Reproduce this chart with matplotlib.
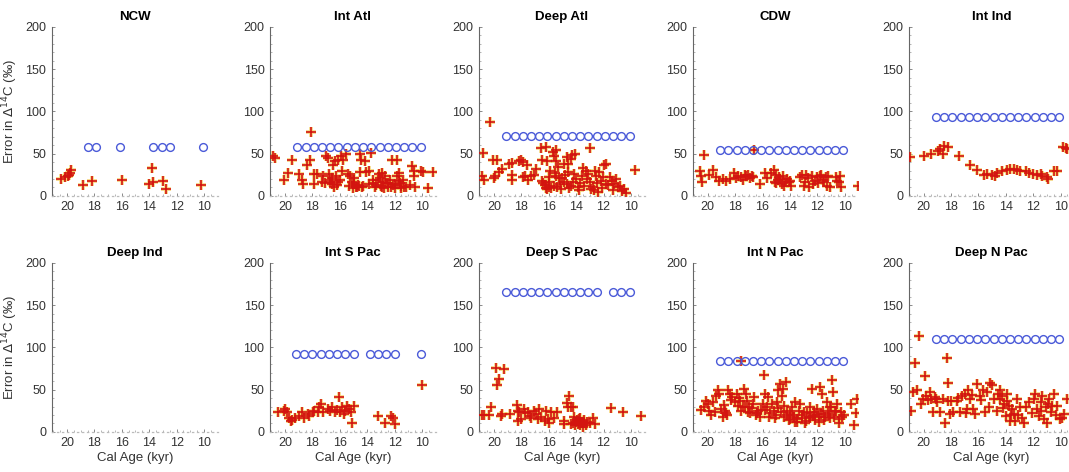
import numpy as np
import matplotlib
matplotlib.use("Agg")
import matplotlib.pyplot as plt

plt.rcParams['font.family'] = ['Liberation Sans', 'DejaVu Sans']

# ========== DATA ==========
titles = ["NCW", "Int Atl", "Deep Atl", "CDW", "Int Ind",
          "Deep Ind", "Int S Pac", "Deep S Pac", "Int N Pac", "Deep N Pac"]

grid16 = [19.1, 18.5, 17.9, 17.3, 16.7, 16.1, 15.5, 14.9, 14.3, 13.7,
          13.1, 12.5, 11.9, 11.3, 10.7, 10.1]

# blue circles (age, level)
circ_x = {
    "NCW": [18.5, 17.9, 16.1, 13.7, 13.1, 12.5, 10.05],
    "Int Atl": grid16,
    "Deep Atl": grid16,
    "CDW": grid16,
    "Int Ind": grid16,
    "Deep Ind": [],
    "Int S Pac": [19.2, 18.6, 18.0, 17.4, 16.8, 16.2, 15.6, 15.0,
                  13.8, 13.2, 12.6, 12.0, 10.05],
    "Deep S Pac": [19.1, 18.5, 17.9, 17.3, 16.7, 16.1, 15.5, 14.9, 14.3,
                   13.7, 13.1, 12.5, 11.3, 10.7, 10.1],
    "Int N Pac": grid16,
    "Deep N Pac": grid16,
}
circ_y = {"NCW": 58, "Int Atl": 58, "Deep Atl": 71, "CDW": 54, "Int Ind": 93,
          "Deep Ind": 0, "Int S Pac": 92, "Deep S Pac": 165, "Int N Pac": 84,
          "Deep N Pac": 110}

# red crosses
ncw_x = [20.45, 20.15, 19.95, 19.8, 19.7, 19.85, 18.8, 18.2, 16.0, 14.0, 13.8, 13.7, 13.0, 12.8, 10.2]
ncw_y = [20, 22, 24, 27, 31, 25, 13, 18, 19, 14, 33, 16, 18, 8, 13]

iatl_x = [20.86, 20.74, 20.1, 19.8, 19.5, 18.96, 18.8, 18.7, 18.4, 18.15, 18.1, 17.9, 17.7, 17.9,
          17.3, 17.0, 16.9, 17.2, 16.8, 16.75, 16.6, 16.5, 16.35, 16.3, 16.2, 16.1, 16.0, 15.9,
          15.85, 15.75, 15.55, 15.4, 15.25, 15.1, 15.0, 14.85, 14.7, 14.55, 14.45, 14.5, 14.4,
          14.2, 14.1, 13.9, 13.85, 13.7, 13.55, 13.35, 13.2, 13.15, 13.05, 12.95, 12.85, 12.7,
          12.6, 12.5, 12.35, 12.2, 12.1, 12.0, 11.85, 11.8, 11.7, 11.6, 11.5, 11.4, 11.15, 10.85,
          10.75, 10.6, 10.55, 10.5, 10.1, 9.9, 9.6, 9.2,
          16.7, 16.45, 16.15, 15.3, 15.05, 14.95, 14.75, 14.3, 13.4, 13.0, 12.75, 12.45, 12.25,
          11.95, 11.55, 11.3, 17.1, 16.55, 14.6, 13.6, 12.9, 11.65]
iatl_y = [47, 45, 19, 27, 43, 26, 19, 14, 36, 43, 76, 26, 26, 14,
          17, 47, 45, 23, 26, 19, 14, 37, 41, 23, 13, 43, 19, 47,
          30, 43, 50, 26, 23, 17, 14, 11, 13, 49, 43, 28, 10,
          41, 28, 30, 14, 51, 15, 13, 19, 26, 21, 27, 17, 23,
          15, 11, 19, 43, 13, 9, 42, 23, 27, 15, 9, 19, 11, 13,
          35, 30, 23, 11, 29, 28, 9, 28,
          17, 11, 16, 12, 9, 21, 10, 12, 10, 12, 9, 15, 11,
          14, 12, 10, 15, 21, 12, 19, 11, 18]

datl_x = [20.86, 20.74, 20.8, 20.27, 20.1, 19.8, 20.0, 19.9, 19.66, 19.4, 18.9, 18.7, 18.2, 17.9,
          18.05, 18.65, 18.65, 17.6, 17.9, 17.7, 17.55, 17.3, 17.1, 16.9, 16.6, 16.2, 16.5, 16.1,
          16.5, 16.3, 16.0, 15.8, 16.2, 15.7, 15.5, 15.6, 15.5, 15.35, 15.55, 15.25, 15.4, 15.2,
          14.9, 14.56, 14.7, 14.3, 14.1, 14.4, 15.0, 14.8, 14.7, 14.5, 14.2, 14.0, 13.8,
          13.0, 13.6, 13.3, 13.1, 13.0, 12.8, 12.7, 12.55, 12.45, 12.35, 12.2, 12.1, 11.95, 11.85,
          11.7, 11.55, 11.4, 11.3, 11.2, 11.1, 10.95, 10.8, 10.65, 10.5, 10.35, 9.7,
          16.4, 16.0, 15.9, 15.65, 15.45, 15.1, 14.85, 14.6, 14.35, 13.9, 13.7, 13.45, 13.2,
          12.95, 12.6, 12.4, 12.05, 11.8, 13.5, 14.15, 15.95, 16.15]
datl_y = [23, 19, 51, 88, 43, 43, 21, 24, 28, 32, 38, 39, 41, 40,
          42, 25, 19, 37, 22, 23, 19, 24, 25, 32, 57, 58, 43, 41,
          18, 13, 10, 9, 9, 52, 54, 47, 41, 34, 27, 21, 11, 14,
          38, 38, 46, 48, 50, 44, 21, 25, 14, 9, 17, 20, 7,
          57, 24, 30, 26, 17, 11, 7, 24, 15, 28, 18, 9, 36, 38,
          13, 22, 18, 7, 14, 20, 10, 12, 6, 8, 4, 31,
          15, 22, 30, 12, 24, 8, 16, 28, 12, 10, 15, 12, 20,
          8, 30, 5, 22, 14, 33, 26, 17, 8]

cdw_x = [20.55, 20.5, 20.4, 20.3, 19.9, 19.6, 19.4, 19.15, 18.9, 18.65, 18.4, 18.05, 17.8, 17.55,
         17.3, 17.05, 16.8, 16.6, 16.2, 15.85, 15.7, 15.2, 15.1, 15.0, 14.9, 14.8, 14.6, 14.5,
         14.35, 14.2, 14.0, 13.9, 13.1, 13.0, 12.9, 12.8, 12.6, 12.4, 12.3, 12.15, 11.8, 11.7,
         11.55, 11.4, 11.3, 11.2, 11.1, 10.6, 10.45, 10.35, 10.3, 9.05,
         17.95, 17.45, 17.2, 16.95, 15.35, 15.05, 14.7, 14.45, 14.1, 13.3, 12.7, 12.05, 11.95,
         11.5, 10.55, 16.7]
cdw_y = [29, 23, 16, 48, 25, 31, 22, 18, 20, 18, 20, 27, 24, 22,
         25, 25, 24, 54, 14, 27, 21, 31, 16, 25, 19, 22, 14, 24,
         17, 20, 18, 12, 25, 12, 16, 25, 11, 24, 14, 18, 24, 25,
         19, 22, 12, 24, 10, 22, 16, 24, 11, 12,
         21, 19, 23, 21, 27, 15, 20, 12, 16, 22, 21, 22, 15,
         17, 18, 22]

iind_x = [21.0, 19.95, 19.46, 18.98, 18.8, 18.6, 18.5, 18.2, 17.45, 16.65, 16.1, 15.6, 15.4,
          15.0, 14.76, 14.65, 14.27, 13.9, 13.7, 13.4, 13.17, 12.95, 12.56, 12.3, 12.05, 11.7,
          11.46, 11.34, 10.98, 10.9, 10.5, 10.24, 9.8, 9.63, 9.5]
iind_y = [46, 47, 50, 53, 55, 49, 59, 58, 47, 36, 31, 25, 26,
          25, 23, 27, 29, 31, 32, 32, 31, 30, 29, 27, 26, 25,
          26, 23, 22, 20, 29, 29, 58, 57, 55]

dind_x = []
dind_y = []

ispac_x = [20.5, 20.1, 20.0, 19.87, 19.75, 19.6, 19.5, 19.25, 19.0, 18.74, 18.6, 18.36, 18.23,
           17.98, 17.86, 17.6, 17.5, 17.35, 17.2, 16.85, 16.7, 16.6, 16.35, 16.2, 16.05, 15.97,
           15.85, 15.7, 15.6, 15.47, 15.34, 15.2, 15.1, 14.96, 13.2, 12.7, 12.3, 12.15, 12.0, 10.0]
ispac_y = [23.5, 25, 27, 23, 17, 13, 14, 16, 19, 23, 17, 21, 19,
           23, 25, 23, 29, 33, 23, 27, 25, 29, 23, 26, 41, 23,
           29, 21, 25, 31, 27, 24, 11, 31, 19, 11, 19, 16, 9, 56]

dspac_x = [20.86, 20.75, 20.37, 20.25, 19.88, 19.75, 19.6, 19.5, 19.4, 19.3, 18.8, 18.33, 18.28,
           18.24, 18.2, 18.04, 17.8, 17.7, 17.55, 17.4, 17.3, 17.06, 16.9, 16.8, 16.7, 16.6, 16.3,
           16.2, 16.08, 15.95, 15.8, 15.6, 15.4, 14.9, 14.85, 14.7, 14.6, 14.5, 14.4, 14.2,
           14.35, 14.25, 14.1, 14.0, 13.9, 13.8, 13.7, 13.6, 13.5, 13.4, 13.3, 13.2, 13.0,
           12.77, 12.65, 11.42, 10.56, 9.26, 13.95, 13.75, 13.55, 13.45, 14.15]
dspac_y = [19.5, 20, 19.5, 30, 76, 55, 62, 19, 21, 74, 21, 32, 25,
           13, 23, 15, 27, 22, 23, 19, 17, 25, 21, 15, 27, 18, 13,
           25, 15, 11, 23, 16, 23, 13, 9, 34, 30, 42, 30, 30,
           9, 11, 8, 12, 9, 15, 8, 12, 6, 10, 8, 12, 10,
           17, 9, 28, 23, 19, 14, 17, 11, 14, 18]

inpac_x = [20.5, 20.1, 20.0, 19.9, 19.75, 19.5, 19.4, 19.26, 19.15, 19.0, 18.9, 18.77, 18.65,
           18.5, 18.4, 18.2, 18.03, 17.9, 17.8, 17.67, 17.54, 17.4, 17.37, 17.2, 17.1, 17.0,
           16.9, 16.73, 16.6, 16.5, 16.3, 16.2, 16.0, 15.9, 15.8, 15.7, 15.6, 15.45, 15.33,
           15.2, 15.1, 14.96, 14.84, 14.7, 14.6, 14.5, 14.4, 14.3, 14.2, 14.1, 13.98, 13.86,
           13.73, 13.6, 13.5, 13.37, 13.24, 13.1, 13.0, 12.9, 12.75, 12.6, 12.5, 12.4, 12.26,
           12.14, 12.0, 11.9, 11.77, 11.65, 11.57, 11.47, 11.33, 11.23, 11.1, 11.0, 10.9, 10.84,
           10.8, 10.66, 10.54, 10.4, 10.3, 10.05, 9.56, 9.3, 9.2, 9.07, 17.55,
           20.3, 19.6, 18.85, 18.3, 17.75, 17.3, 16.8, 16.4, 16.1, 15.5, 15.0, 14.65, 14.45,
           14.0, 13.8, 13.45, 13.15, 12.85, 12.55, 12.2, 11.85, 11.5, 11.15, 10.7, 10.45,
           18.6, 17.05, 15.85, 14.9, 14.25, 13.65, 12.35, 11.7, 11.05, 10.2]
inpac_y = [26, 37, 33, 25, 20, 24, 43, 49, 45, 27, 18, 25, 22,
           49, 45, 41, 35, 45, 31, 37, 25, 29, 51, 45, 37, 29,
           22, 33, 41, 20, 25, 18, 33, 67, 45, 29, 41, 22, 33,
           25, 16, 35, 49, 57, 43, 51, 31, 59, 25, 14, 22, 29,
           18, 35, 12, 25, 33, 16, 24, 10, 22, 18, 29, 51, 24,
           20, 27, 18, 53, 45, 25, 18, 35, 22, 16, 29, 61, 47,
           18, 25, 33, 10, 24, 20, 33, 8, 22, 39, 84,
           30, 35, 32, 38, 40, 30, 28, 22, 26, 18, 20, 24, 18,
           15, 20, 15, 20, 13, 16, 14, 12, 14, 20, 25, 15,
           20, 24, 26, 28, 20, 12, 19, 21, 30, 18]

dnpac_x = [20.9, 20.8, 20.66, 20.5, 20.34, 20.17, 20.05, 19.93, 19.8, 19.56, 19.44, 19.3, 19.2,
           19.07, 18.8, 18.58, 18.45, 18.28, 18.2, 18.2, 18.1, 17.84, 17.6, 17.35, 17.23, 17.0,
           16.86, 16.74, 16.6, 16.37, 16.25, 16.08, 15.9, 15.7, 15.5, 15.4, 15.15, 15.0, 14.9,
           14.66, 14.46, 14.4, 14.3, 14.17, 14.0, 13.92, 13.8, 13.67, 13.55, 13.43, 13.3, 13.2,
           13.08, 12.94, 12.82, 12.7, 12.33, 11.96, 11.84, 11.7, 11.58, 11.47, 11.35, 11.22,
           11.1, 10.98, 10.86, 10.74, 10.6, 10.5, 10.24, 10.05, 9.75, 9.5,
           19.7, 19.0, 18.0, 17.5, 16.9, 16.5, 15.8, 15.25, 14.55, 14.2, 13.95, 13.6, 12.5,
           12.1, 11.4, 10.9, 10.35, 9.9]
dnpac_y = [25, 47, 82, 49, 113, 33, 39, 66, 43, 47, 39, 23, 41,
           39, 23, 39, 11, 87, 58, 37, 21, 23, 37, 23, 43, 45,
           27, 49, 39, 27, 21, 57, 43, 49, 23, 47, 58, 55, 39,
           25, 49, 39, 43, 33, 19, 45, 31, 13, 27, 21, 13, 39,
           20, 29, 16, 11, 35, 39, 45, 27, 19, 35, 43, 15,
           29, 11, 39, 23, 31, 45, 31, 15, 21, 39,
           38, 35, 36, 40, 22, 44, 38, 30, 45, 28, 37, 20, 30,
           22, 25, 33, 20, 17]

cross_x = {"NCW": ncw_x, "Int Atl": iatl_x, "Deep Atl": datl_x, "CDW": cdw_x, "Int Ind": iind_x,
           "Deep Ind": dind_x, "Int S Pac": ispac_x, "Deep S Pac": dspac_x,
           "Int N Pac": inpac_x, "Deep N Pac": dnpac_x}
cross_y = {"NCW": ncw_y, "Int Atl": iatl_y, "Deep Atl": datl_y, "CDW": cdw_y, "Int Ind": iind_y,
           "Deep Ind": dind_y, "Int S Pac": ispac_y, "Deep S Pac": dspac_y,
           "Int N Pac": inpac_y, "Deep N Pac": dnpac_y}

# ========== PLOT ==========
fig = plt.figure(figsize=(10.69, 4.72), dpi=100)
lefts = [0.0486, 0.2526, 0.448, 0.648, 0.850]
bottoms = [0.585, 0.085]
w, h = 0.155, 0.358

for i, name in enumerate(titles):
    r, c = divmod(i, 5)
    ax = fig.add_axes([lefts[c], bottoms[r], w, h])

    cx = cross_x[name]
    cy = cross_y[name]
    if len(cx):
        ax.plot(cx, cy, ls="none", marker="+", ms=7.5, mew=2.6, color="#f2c447", alpha=0.7, zorder=2)
        ax.plot(cx, cy, ls="none", marker="+", ms=7.5, mew=1.2, color="#d3140f", zorder=3)
    if len(circ_x[name]):
        ax.plot(circ_x[name], [circ_y[name]] * len(circ_x[name]), ls="none", marker="o",
                ms=5.6, mfc="none", mec="#4a5ad8", mew=1.0, zorder=4)

    ax.set_xlim(21.1, 9.0)
    ax.set_ylim(0, 200)
    ax.set_xticks([20, 18, 16, 14, 12, 10])
    ax.set_yticks([0, 50, 100, 150, 200])
    ax.set_yticks(np.arange(0, 201, 10), minor=True)
    ax.set_xticks(np.arange(9.5, 21.1, 0.5), minor=True)

    for s in ["top", "right"]:
        ax.spines[s].set_visible(False)
    ax.spines["left"].set_color("#666666")
    ax.spines["left"].set_linewidth(0.8)
    ax.spines["bottom"].set_color("#bbbbbb")
    ax.spines["bottom"].set_linestyle((0, (1, 3)))
    ax.spines["bottom"].set_linewidth(0.9)

    ax.tick_params(axis="both", which="major", direction="in", length=2.5, width=0.6,
                   colors="#777777", labelcolor="#333333", labelsize=9, pad=4)
    ax.tick_params(axis="both", which="minor", direction="in", length=1.2, width=0.5,
                   colors="#999999")
    ax.set_title(name, fontsize=9.5, fontweight="bold", pad=5)

    if c == 0:
        ax.set_ylabel("Error in $\\Delta^{14}$C (‰)", fontsize=9.5, color="#333333", labelpad=4)
    if r == 1:
        ax.set_xlabel("Cal Age (kyr)", fontsize=9.5, color="#333333", labelpad=2)

plt.savefig("out.png", dpi=100)
